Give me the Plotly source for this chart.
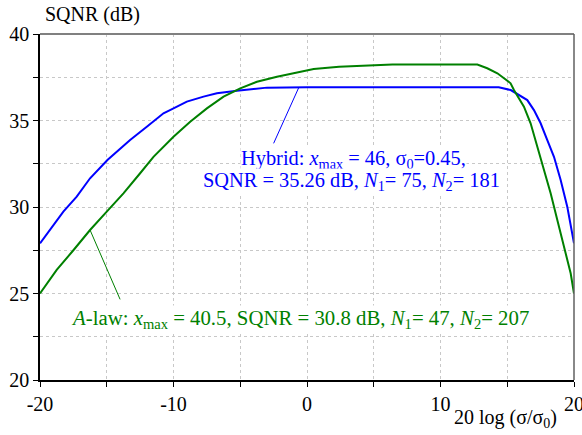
import plotly.graph_objects as go

# Hybrid quantizer curve
hybrid_x = [-20, -19.25, -18.25, -17.25, -16.25, -14.95, -14, -13.25, -12, -10.75, -10, -9,
            -7.75, -6.75, -5.25, -3, 0, 5, 10, 14.36, 15.26, 15.9, 16.5, 17, 17.5, 18, 18.5,
            19, 19.5, 20]
hybrid_y = [27.9, 28.67, 29.73, 30.6, 31.66, 32.72, 33.39, 33.87, 34.64, 35.42, 35.7, 36.09,
            36.38, 36.57, 36.72, 36.9, 36.92, 36.92, 36.92, 36.92, 36.76, 36.47, 36.18, 35.6,
            34.84, 33.87, 32.9, 31.56, 30.0, 27.9]

# A-law quantizer curve
alaw_x = [-20, -18.75, -17.5, -16.25, -15, -13.75, -12.5, -11.5, -10, -8.75, -7.5, -6.25, -5,
          -3.75, -2.25, -0.75, 0.5, 2.4, 6.4, 12.76, 13.5, 14.26, 15.25, 15.5, 16.25, 16.75,
          17.25, 17.75, 18.25, 18.75, 19.25, 19.75, 20]
alaw_y = [25.0, 26.36, 27.5, 28.67, 29.73, 30.79, 31.95, 32.9, 34.06, 34.93, 35.7, 36.38, 36.86,
          37.24, 37.53, 37.76, 37.98, 38.11, 38.23, 38.23, 38.02, 37.73, 37.15, 36.76, 35.8,
          34.84, 33.49, 32.14, 30.79, 29.25, 27.7, 26.17, 25.0]

x_ticks = [-20, -10, 0, 10, 20]
x_labels = ["-20", "-10", "0", "10", "20"]
y_ticks = [20, 25, 30, 35, 40]
y_labels = ["20", "25", "30", "35", "40"]

BLUE = "#0000ff"
GREEN = "#008000"
FONT = "Liberation Serif, Times New Roman, serif"

fig = go.Figure()
fig.add_trace(go.Scatter(x=hybrid_x, y=hybrid_y, mode="lines",
                         line=dict(color=BLUE, width=2), name="Hybrid"))
fig.add_trace(go.Scatter(x=alaw_x, y=alaw_y, mode="lines",
                         line=dict(color=GREEN, width=2), name="A-law"))

axis_common = dict(showgrid=True, gridcolor="#c8c8c8", griddash="dot", gridwidth=1,
                   showline=True, linecolor="black", linewidth=1.5,
                   ticks="outside", ticklen=5, tickcolor="black", zeroline=False,
                   ticklabeloverflow="allow", automargin=False,
                   tickfont=dict(family=FONT, size=20, color="black"))

fig.update_xaxes(range=[-20, 20], tickvals=x_ticks, ticktext=x_labels,
                 minor=dict(dtick=5, tick0=-20, ticks="outside", ticklen=5, tickcolor="black",
                            showgrid=True, gridcolor="#c8c8c8", griddash="dot"),
                 **axis_common)
fig.update_yaxes(range=[20, 40], tickvals=y_ticks, ticktext=y_labels,
                 minor=dict(dtick=2.5, tick0=20, ticks="outside", ticklen=5, tickcolor="black",
                            showgrid=True, gridcolor="#c8c8c8", griddash="dot"),
                 **axis_common)

# grey frame on top and right
fig.add_shape(type="line", xref="paper", yref="paper", x0=0, x1=1, y0=1, y1=1,
              line=dict(color="#808080", width=2))
fig.add_shape(type="line", xref="paper", yref="paper", x0=1, x1=1, y0=0, y1=1,
              line=dict(color="#606060", width=1.5))

# pointer lines
fig.add_shape(type="line", x0=-0.62, y0=36.9, x1=-2.5, y1=33.68, line=dict(color=BLUE, width=1))
fig.add_shape(type="line", x0=-16.25, y0=28.67, x1=-14.0, y1=24.66, line=dict(color=GREEN, width=1))

# Hybrid label, two lines placed separately for the tighter line spacing
fig.add_annotation(x=3.5, y=32.72, xref="x", yref="y", showarrow=False, borderpad=0,
                   text="Hybrid: <i>x</i><sub>max</sub> = 46, σ<sub>0</sub>=0.45,",
                   font=dict(family=FONT, size=20.4, color=BLUE), bgcolor="white")
fig.add_annotation(x=3.32, y=31.45, xref="x", yref="y", showarrow=False, borderpad=0,
                   text="SQNR = 35.26 dB, <i>N</i><sub>1</sub>= 75, <i>N</i><sub>2</sub>= 181",
                   font=dict(family=FONT, size=20.4, color=BLUE), bgcolor="white")
fig.add_annotation(x=-0.5, y=23.55, xref="x", yref="y", showarrow=False, borderpad=0,
                   text="<i>A</i>-law: <i>x</i><sub>max</sub> = 40.5, SQNR = 30.8 dB, "
                        "<i>N</i><sub>1</sub>= 47, <i>N</i><sub>2</sub>= 207",
                   font=dict(family=FONT, size=20.8, color=GREEN), bgcolor="white")

fig.add_annotation(xref="paper", yref="paper", x=0.006, y=1.0, yshift=20, xanchor="left",
                   yanchor="middle", showarrow=False, text="SQNR (dB)",
                   font=dict(family=FONT, size=20, color="black"))
fig.add_annotation(xref="paper", yref="paper", x=0.871, y=0, yshift=-38, xanchor="center",
                   yanchor="middle", showarrow=False, text="20 log (σ/σ<sub>0</sub>)",
                   font=dict(family=FONT, size=20, color="black"))

fig.update_layout(width=582, height=435, showlegend=False,
                  paper_bgcolor="white", plot_bgcolor="white",
                  margin=dict(l=40, r=8, t=34, b=55))

# drop the default page margin so the figure sits at the window's corner
fig.write_html("out.html", config={"displayModeBar": False},
               post_script="document.body.style.margin='0';document.body.style.overflow='hidden';")
